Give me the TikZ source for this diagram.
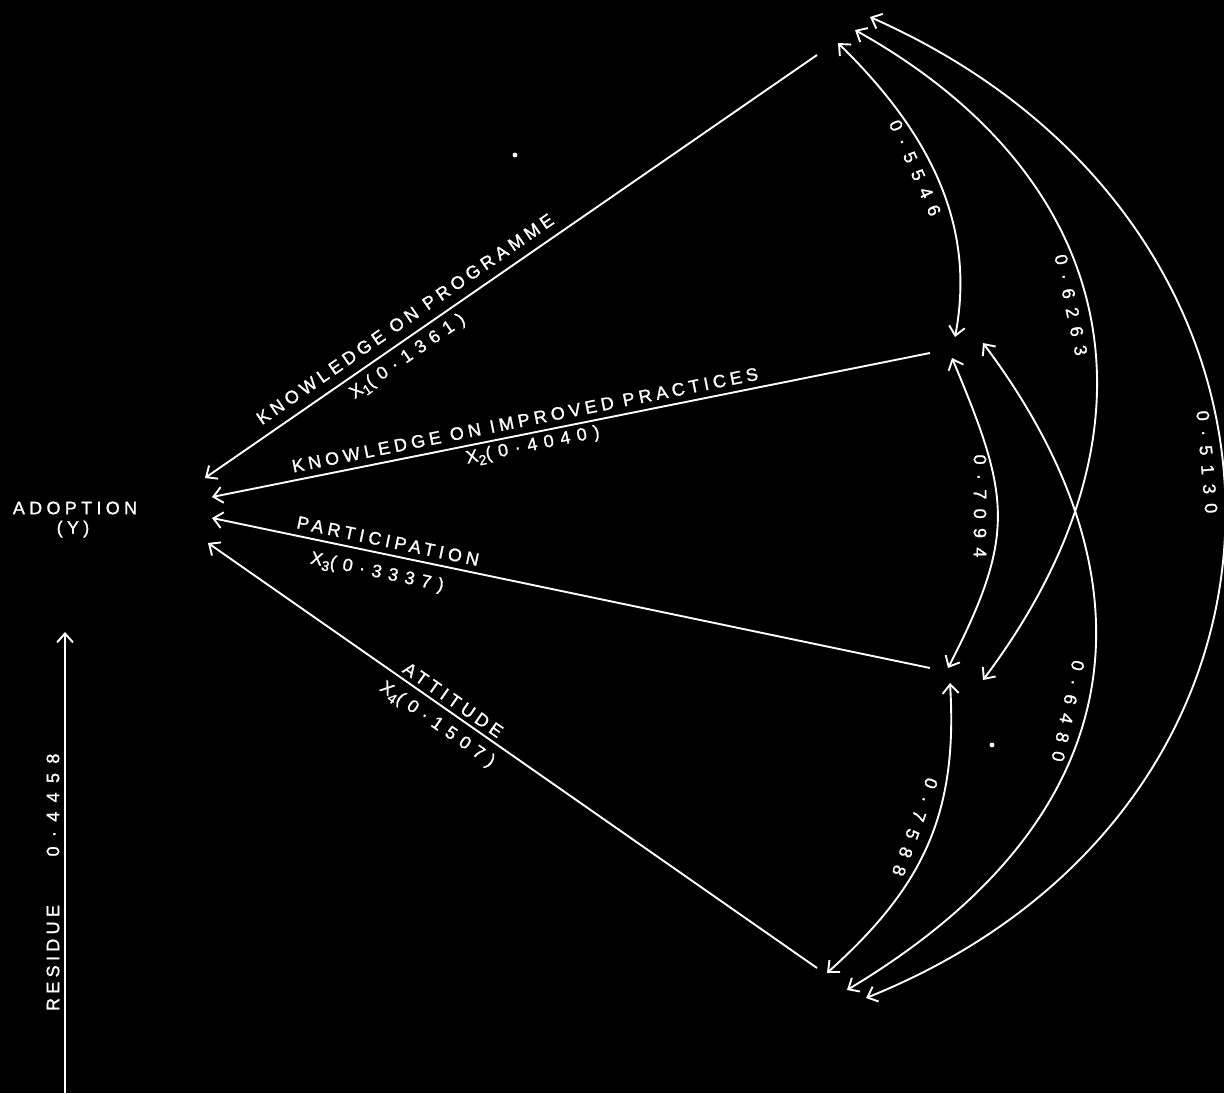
\documentclass[tikz,border=0pt]{standalone}
\usepackage{fontspec}
\setmainfont{Liberation Sans}
\newfontfamily\lblfont[LetterSpace=24,FakeBold=1.2]{Liberation Sans}
\newfontfamily\xfont[LetterSpace=38,FakeBold=1.2]{Liberation Sans}
\newfontfamily\numfont[LetterSpace=52,FakeBold=1.2]{Liberation Sans}
\newcommand\sbs[1]{\raisebox{-0.45ex}{\fontsize{14}{14}\selectfont #1}}
\usetikzlibrary{arrows.meta}
\begin{document}
\begin{tikzpicture}[x=1pt,y=-1pt, line width=1.9pt,
  >={Straight Barb[length=9pt,width=16pt]},
  lbl/.style={font=\fontsize{18}{18}\lblfont, text=white, inner sep=0pt},
  xlbl/.style={font=\fontsize{18}{18}\xfont, text=white, inner sep=0pt},
  num/.style={font=\fontsize{18}{18}\numfont, text=white, inner sep=0pt},
  pathln/.style={draw=white, ->},
  corr/.style={draw=white, <->}]
\fill[black] (0,0) rectangle (1224,1093);
\useasboundingbox (0,0) rectangle (1224,1093);

% adoption
\node[lbl] (Y) at (75,508) {ADOPTION};
\node[lbl] (Yb) at (73,529) {(Y)};

% path endpoints at Y
\coordinate (y1) at (205,478);
\coordinate (y2) at (212,497);
\coordinate (y3) at (212,518);
\coordinate (y4) at (208,543);
% path starts at X nodes
\coordinate (x1) at (817,55);
\coordinate (x2) at (930,353);
\coordinate (x3) at (930,668);
\coordinate (x4) at (817,968);

\draw[pathln] (x1) -- (y1);
\draw[pathln] (x2) -- (y2);
\draw[pathln] (x3) -- (y3);
\draw[pathln] (x4) -- (y4);

% path labels
\node[lbl, rotate=34.6] (l1a) at (405,319) {KNOWLEDGE ON PROGRAMME};
\node[xlbl, rotate=34.6] (l1b) at (408,357) {X\sbs{1}(0·1361)};
\node[lbl, rotate=11.3] (l2a) at (525,420) {KNOWLEDGE ON IMPROVED PRACTICES};
\node[xlbl, rotate=11.3] (l2b) at (533,446) {X\sbs{2}(0·4040)};
\node[lbl, rotate=-11.8] (l3a) at (388,541) {PARTICIPATION};
\node[xlbl, rotate=-11.8] (l3b) at (377,573) {X\sbs{3}(0·3337)};
\node[lbl, rotate=-34.9] (l4a) at (453,700) {ATTITUDE};
\node[xlbl, rotate=-34.9] (l4b) at (437,725) {X\sbs{4}(0·1507)};

% correlation end points
\coordinate (a1) at (838,43);  \coordinate (a2) at (955,337);
\coordinate (b1) at (855,30);  \coordinate (b2) at (983,680);
\coordinate (c1) at (870,17);  \coordinate (c2) at (866,998);
\coordinate (d1) at (952,358); \coordinate (d2) at (948,668);
\coordinate (e1) at (983,343); \coordinate (e2) at (847,990);
\coordinate (f1) at (950,683); \coordinate (f2) at (827,973);

\draw[corr] (a1) .. controls (932,135) and (976,227) .. (a2);
\draw[corr] (b1) .. controls (1118,177) and (1175,424) .. (b2);
\draw[corr] (c1) .. controls (1345,227) and (1343,806) .. (c2);
\draw[corr] (d1) .. controls (1010,496) and (1017,534) .. (d2);
\draw[corr] (e1) .. controls (1151,567) and (1151,808) .. (e2);
\draw[corr] (f1) .. controls (958,813) and (924,886) .. (f2);

\node[num, rotate=-66] (n1) at (915,168) {0·5546};
\node[num, rotate=-78] (n2) at (1071,305) {0·6263};
\node[num, rotate=-85] (n3) at (1207,462) {0·5130};
\node[num, rotate=-90] (n4) at (980,506) {0·7094};
\node[num, rotate=-102] (n5) at (1068,711) {0·6480};
\node[num, rotate=-110] (n6) at (915,827) {0·7588};

% residue
\coordinate (r0) at (65,1093);
\coordinate (r1) at (65,632);
\draw[pathln] (r0) -- (r1);
\node[lbl, rotate=90] (res) at (53,958) {RESIDUE};
\node[num, rotate=90] (resv) at (53,805) {0·4458};

% specks
\fill[white] (515,155) circle (2.4);
\fill[white] (992,745) circle (2.4);
\end{tikzpicture}
\end{document}
